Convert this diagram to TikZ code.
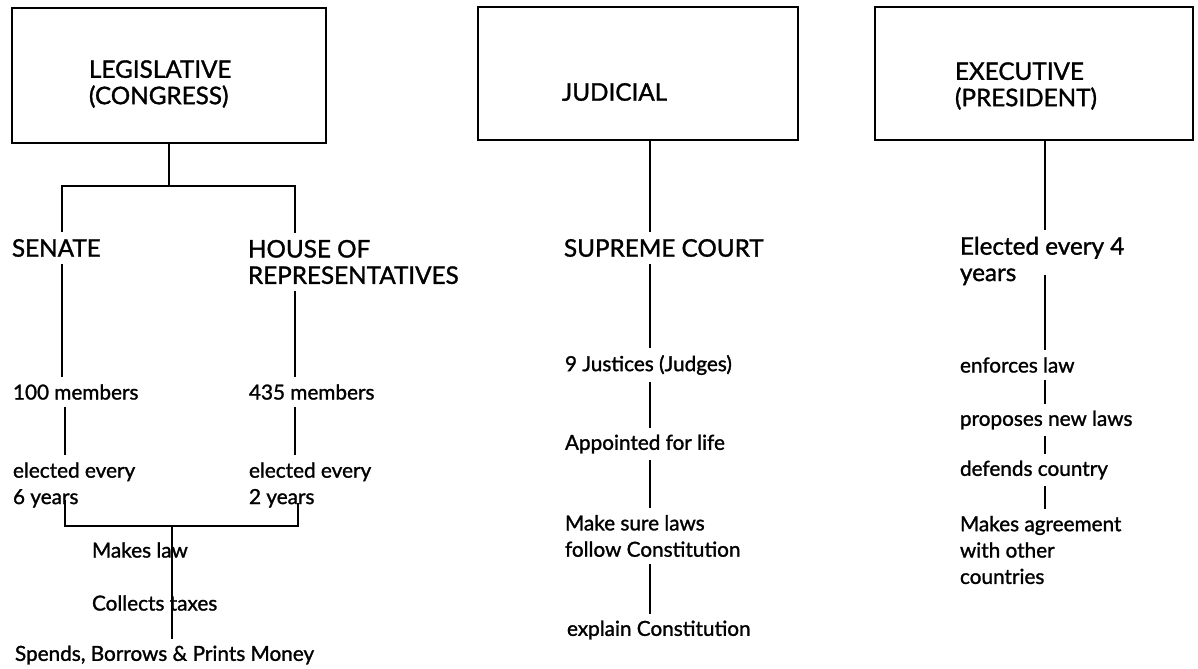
\documentclass[tikz,border=0pt]{standalone}
\usepackage{fontspec}
\setmainfont{Lato}[BoldFont=Lato,BoldFeatures={FakeBold=1.3}]
\begin{document}
\begin{tikzpicture}[
	x=0.02cm,y=-0.02cm,
	branch/.style={draw,line width=1.3pt,inner sep=0pt,minimum height=2.66cm},
	big/.style={font=\fontsize{13.8}{15}\selectfont\bfseries,anchor=west,align=left,inner sep=0pt,outer xsep=0pt,outer ysep=4pt},
	small/.style={font=\fontsize{11.8}{15}\selectfont\bfseries,anchor=west,align=left,inner sep=0pt,outer xsep=0pt,outer ysep=4pt},
	link/.style={line width=1.1pt}
	]
	\useasboundingbox (0,0) rectangle (1198,669);
	\node[branch,minimum width=6.28cm,minimum height=2.7cm] (legis) at (169,75.5) {};
	\node[branch,minimum width=6.4cm] (jud) at (638,73.5) {};
	\node[branch,minimum width=6.36cm] (exe) at (1034,73.5) {};
	\node[big] (legisT) at (89,84) {LEGISLATIVE\\(CONGRESS)};
	\node[big] (judT) at (562,92) {JUDICIAL};
	\node[big] (exeT) at (955,86) {EXECUTIVE\\(PRESIDENT)};
	\node[big] (senate) at (12,248) {SENATE};
	\node[big] (house) at (248,262) {HOUSE OF\\REPRESENTATIVES};
	\node[small] (mem100) at (13,392) {100 members};
	\node[small] (mem435) at (249,392) {435 members};
	\node[small] (elec6) at (13,485) {elected every\\6 years};
	\node[small] (elec2) at (249,485) {elected every\\2 years};
	\node[small] (laws) at (92,550) {Makes law};
	\node[small] (taxes) at (92,603) {Collects taxes};
	\node[small] (money) at (15,655) {Spends, Borrows \& Prints Money};
	\node[big] (supreme) at (564,248) {SUPREME COURT};
	\node[small] (justices) at (565,365) {9 Justices (Judges)};
	\node[small] (life) at (565,444) {Appointed for life};
	\node[small] (follow) at (565,536) {Make sure laws\\follow Constitution};
	\node[small] (explain) at (567,630) {explain Constitution};
	\node[big] (elec4) at (960,261) {Elected every 4\\years};
	\node[small] (enforce) at (960,365) {enforces law};
	\node[small] (propose) at (960,420) {proposes new laws};
	\node[small] (defend) at (960,470) {defends country};
	\node[small] (agree) at (960,550) {Makes agreement\\with other\\countries};
	\coordinate (legjoin) at (169,186);
	\coordinate (scol) at (62,186);
	\coordinate (hcol) at (295,186);
	\coordinate (b6) at (65,500);
	\coordinate (b2) at (298,503);
	\coordinate (lawjoin) at (172,526);
	\coordinate (jcol) at (650,0);
	\coordinate (ecol) at (1045,0);
	\draw[link] (legis) -- (legjoin);
	\draw[link] (senate.north -| scol) |- (hcol) -- (house.north -| hcol);
	\draw[link] (senate.south -| scol) -- (mem100.north -| scol);
	\draw[link] (house.south -| hcol) -- (mem435.north -| hcol);
	\draw[link] ([xshift=1.5pt]mem100.south -| scol) -- ([xshift=1.5pt]elec6.north -| scol);
	\draw[link] (mem435.south -| hcol) -- (elec2.north -| hcol);
	\draw[link] (b6) |- (lawjoin) -| (b2);
	\draw[link] (lawjoin) -- (lawjoin |- money.north);
	\draw[link] (jud.south -| jcol) -- (supreme.north -| jcol);
	\draw[link] (supreme.south -| jcol) -- (justices.north -| jcol);
	\draw[link] (justices.south -| jcol) -- (life.north -| jcol);
	\draw[link] (life.south -| jcol) -- (follow.north -| jcol);
	\draw[link] (follow.south -| jcol) -- (explain.north -| jcol);
	\draw[link] (exe.south -| ecol) -- (elec4.north -| ecol);
	\draw[link] ([yshift=10pt]elec4.south -| ecol) -- (enforce.north -| ecol);
	\draw[link] (enforce.south -| ecol) -- (propose.north -| ecol);
	\draw[link] (propose.south -| ecol) -- (defend.north -| ecol);
	\draw[link] (defend.south -| ecol) -- (agree.north -| ecol);
\end{tikzpicture}
\end{document}
